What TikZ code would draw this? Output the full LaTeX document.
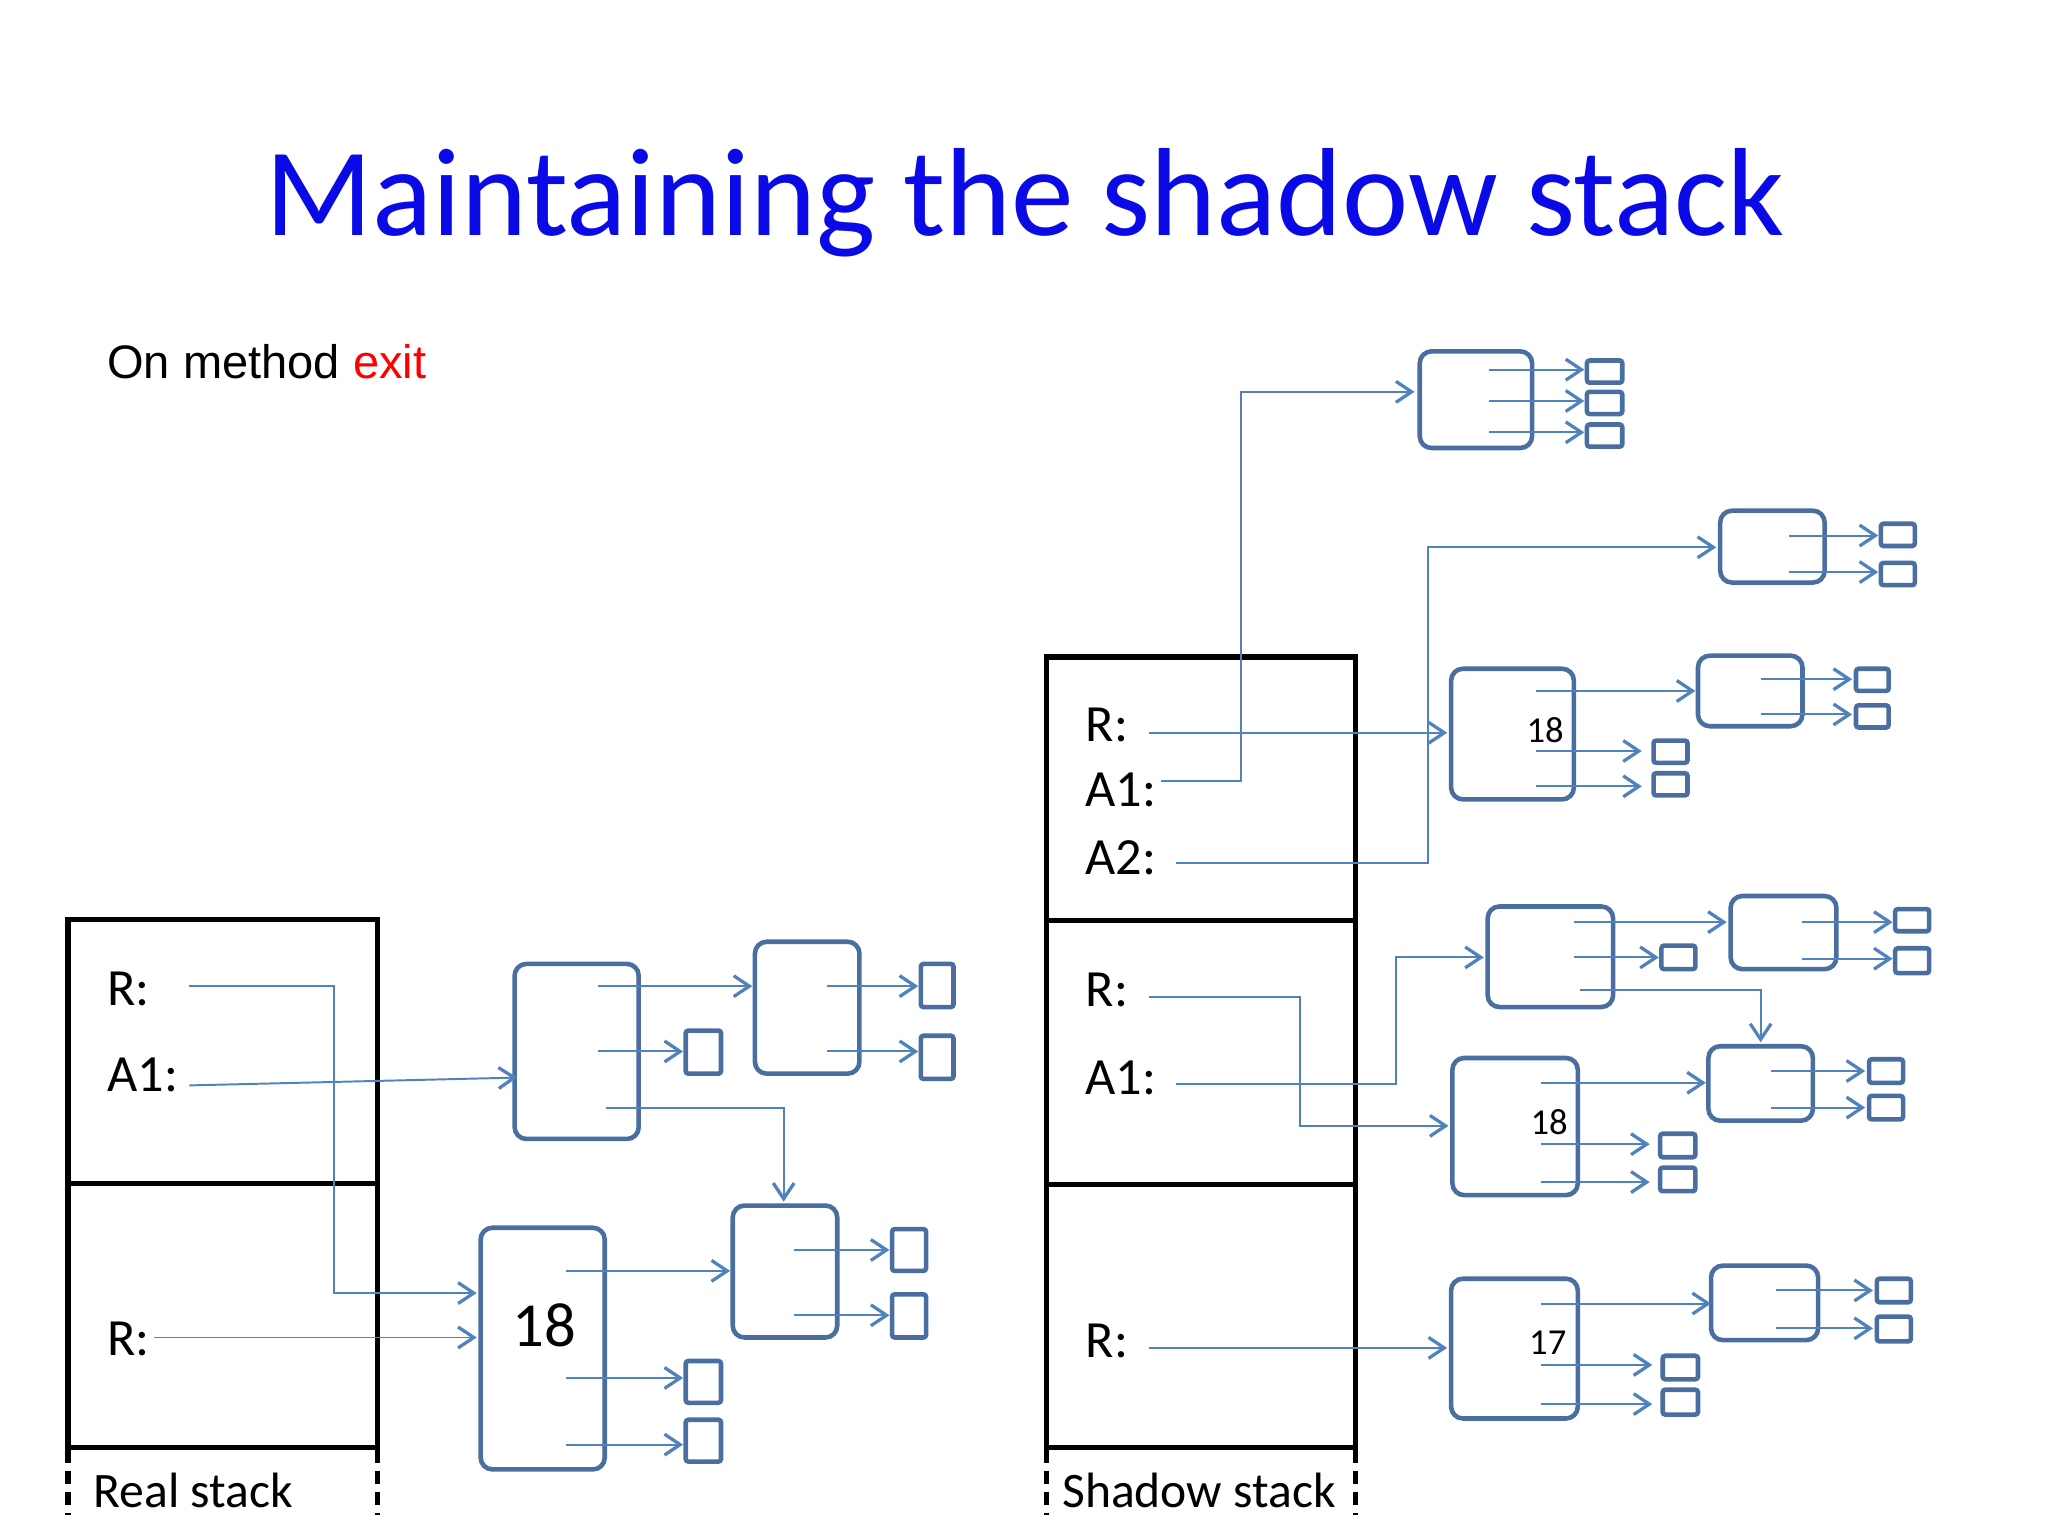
\documentclass[tikz,border=0pt]{standalone}
\usepackage{fontspec}
\setmainfont{Carlito}
\newfontfamily\arialf{Liberation Sans}
\usetikzlibrary{arrows.meta}
\definecolor{bx}{RGB}{74,110,160}
\definecolor{ar}{RGB}{80,130,190}
\definecolor{ttl}{RGB}{10,10,230}
\begin{document}
\begin{tikzpicture}[x=1pt,y=-1pt,
 box/.style={draw=bx,line width=3.5pt,rounded corners=9pt},
 sq/.style={draw=bx,line width=3.5pt,rounded corners=2pt},
 ar/.style={draw=ar,line width=1.5pt,-{Straight Barb[length=12pt,width=16pt,line width=2.5pt]}},
 stk/.style={draw=black,line width=4pt},
 dsh/.style={draw=black,line width=4pt,dash pattern=on 10pt off 6pt},
 lab/.style={anchor=west,font=\fontsize{40}{44}\selectfont,inner sep=0pt}]
\useasboundingbox (0,0) rectangle (1568,1176);
\node[text=ttl,font=\fontsize{96}{106}\selectfont] (title) at (785,155) {Maintaining the shadow stack};
\node[lab,font=\arialf\fontsize{36}{40}\selectfont] (sub) at (82,277) {On method \textcolor{red}{exit}};
% real stack
\draw[stk] (52,704) rectangle (289,1108); \draw[stk] (52,906) -- (289,906);
\draw[dsh] (52,1110) -- (52,1160); \draw[dsh] (289,1110) -- (289,1160);
\node[font=\fontsize{38}{42}\selectfont] (rl) at (148,1141) {Real stack};
\node[lab] (r1) at (82,757) {R:}; \node[lab] (a1) at (82,823) {A1:}; \node[lab] (r2) at (82,1025) {R:};
% shadow stack
\draw[stk] (801,503) rectangle (1038,1108); \draw[stk] (801,705) -- (1038,705); \draw[stk] (801,907) -- (1038,907);
\draw[dsh] (801,1110) -- (801,1160); \draw[dsh] (1038,1110) -- (1038,1160);
\node[font=\fontsize{38}{42}\selectfont] (sl) at (918,1141) {Shadow stack};
\node[lab] at (831,555) {R:}; \node[lab] at (831,605) {A1:}; \node[lab] at (831,657) {A2:};
\node[lab] at (831,758) {R:}; \node[lab] at (831,825) {A1:}; \node[lab] at (831,1027) {R:};
% left objects
\draw[box] (394,738) rectangle (489,872);
\draw[box] (578,721) rectangle (658,822);
\draw[box] (561,923) rectangle (641,1024);
\draw[box] (368,940) rectangle (463,1125); \node[font=\fontsize{48}{50}\selectfont] at (417,1015) {18};
\foreach \x/\y/\X/\Y in {705/738/730/771,705/793/730/826,525/789/552/822,683/941/709/973,683/991/709/1024,525/1042/552/1074,525/1087/552/1119}
  \draw[sq] (\x,\y) rectangle (\X,\Y);
\draw[ar] (145,755) -- (256,755) -- (256,990) -- (365,990);
\draw[ar] (145,831) -- (396,825);
\draw[ar] (118,1024) -- (365,1024);
\draw[ar] (458,755) -- (576,755);
\draw[ar] (458,805) -- (523,805);
\draw[ar] (464,848) -- (600,848) -- (600,920);
\draw[ar] (633,755) -- (703,755); \draw[ar] (633,805) -- (703,805);
\draw[ar] (608,957) -- (681,957); \draw[ar] (608,1007) -- (681,1007);
\draw[ar] (433,973) -- (559,973); \draw[ar] (433,1055) -- (523,1055); \draw[ar] (433,1106) -- (523,1106);
% right objects
\draw[box] (1087,269) rectangle (1173,343);
\draw[box] (1317,391) rectangle (1397,446);
\draw[box] (1111,512) rectangle (1205,612); \node[font=\fontsize{28}{30}\selectfont] at (1183,559) {18};
\draw[box] (1300,502) rectangle (1380,556);
\draw[box] (1139,694) rectangle (1235,771);
\draw[box] (1325,686) rectangle (1406,742);
\draw[box] (1308,801) rectangle (1388,858);
\draw[box] (1112,810) rectangle (1208,915); \node[font=\fontsize{28}{30}\selectfont] at (1186,859) {18};
\draw[box] (1111,979) rectangle (1208,1086); \node[font=\fontsize{28}{30}\selectfont] at (1185,1028) {17};
\draw[box] (1310,969) rectangle (1392,1026);
\foreach \x/\y/\X/\Y in {1215/276/1242/293,1215/300/1242/317,1215/325/1242/342,1440/401/1466/418,1440/431/1466/448,1266/567/1292/584,1266/592/1292/609,1421/512/1446/529,1421/540/1446/557,1272/724/1298/742,1451/696/1477/713,1451/726/1477/745,1431/811/1457/829,1431/839/1457/857,1271/868/1298/886,1271/894/1298/912,1273/1038/1300/1056,1273/1064/1300/1083,1437/979/1463/997,1437/1008/1463/1027}
  \draw[sq] (\x,\y) rectangle (\X,\Y);
\foreach \a/\b/\c in {1140/1213/283,1140/1213/307,1140/1213/331,1370/1438/410,1370/1438/438,1176/1257/575,1176/1257/602,1176/1298/529,1348/1418/520,1348/1418/547,1205/1322/706,1205/1270/733,1380/1449/706,1380/1449/734,1356/1428/820,1356/1428/848,1180/1263/876,1180/1263/905,1180/1306/829,1180/1265/1045,1180/1265/1075,1180/1310/998,1360/1434/988,1360/1434/1017}
  \draw[ar] (\a,\c) -- (\b,\c);
\draw[ar] (1210,758) -- (1348,758) -- (1348,798);
\draw[ar] (880,561) -- (1108,561);
\draw[ar] (889,598) -- (950,598) -- (950,300) -- (1083,300);
\draw[ar] (900,661) -- (1093,661) -- (1093,419) -- (1314,419);
\draw[ar] (880,763) -- (995,763) -- (995,862) -- (1109,862);
\draw[ar] (900,830) -- (1069,830) -- (1069,733) -- (1136,733);
\draw[ar] (880,1032) -- (1108,1032);
\end{tikzpicture}
\end{document}
